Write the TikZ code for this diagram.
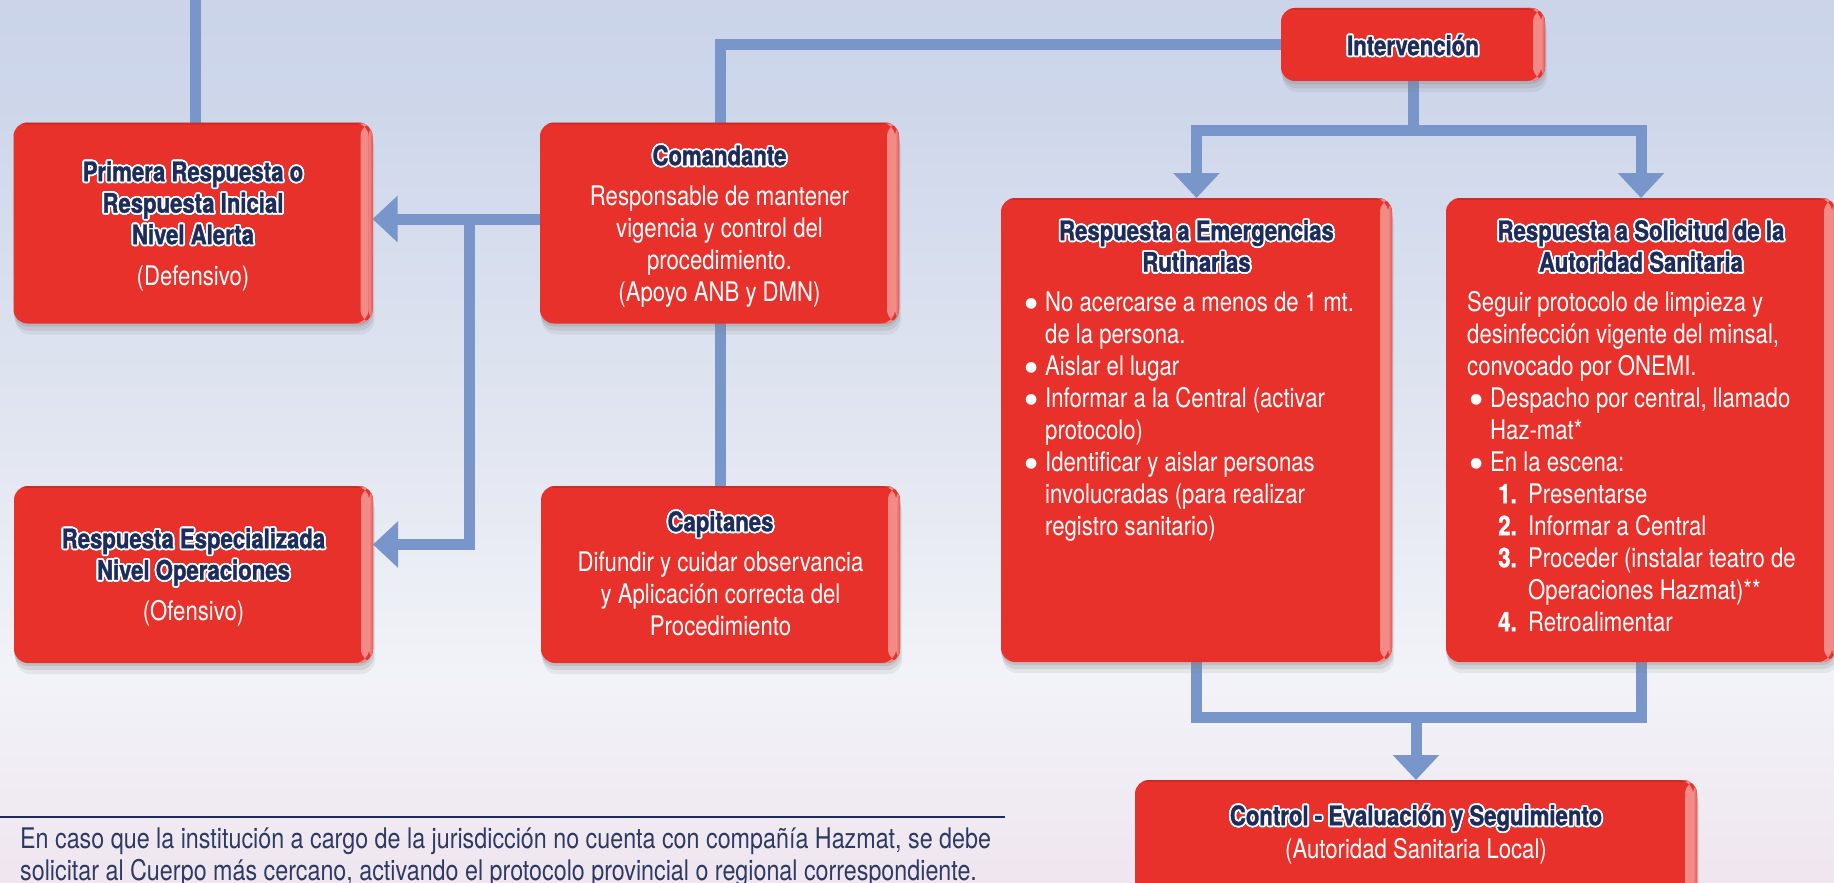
\documentclass[tikz,border=0pt]{standalone}
\usepackage{fontspec}
\setmainfont{TeX Gyre Heros}[FakeStretch=0.82, BoldFeatures={FakeBold=1.3}]
\newfontfamily\bulfont{DejaVu Sans}
\usepackage[copies]{contour}
\contourlength{1.8pt}
\usetikzlibrary{arrows.meta,shadows}
\definecolor{boxred}{RGB}{233,49,44}
\definecolor{hl}{RGB}{242,140,136}
\definecolor{hledge}{RGB}{230,88,84}
\definecolor{navy}{RGB}{30,44,92}
\definecolor{connc}{RGB}{121,150,203}
\definecolor{foot}{RGB}{45,58,100}
\definecolor{cA}{RGB}{190,203,228}
\definecolor{cB}{RGB}{205,214,234}
\definecolor{cC}{RGB}{226,230,241}
\definecolor{cD}{RGB}{242,243,248}
\definecolor{cE}{RGB}{238,224,236}
\definecolor{cF}{RGB}{224,214,232}
\pgfdeclareverticalshading{bgshade}{100bp}{color(0bp)=(cF); color(20bp)=(cE); color(37bp)=(cD); color(50bp)=(cC); color(70bp)=(cB); color(100bp)=(cA)}
\pgfdeclarelayer{bg}
\pgfdeclarelayer{lines}
\pgfsetlayers{bg,lines,main}
\newcommand{\ct}[1]{\contour{white}{#1}}
\newcommand{\bul}{\makebox[20pt][l]{\raisebox{4pt}{\bulfont\fontsize{14}{14}\selectfont ●}}}
\newcommand{\nitem}[1]{\makebox[30pt][l]{\bfseries #1}}
\newcommand{\fs}{\rule{0pt}{24pt}}
\begin{document}
\begin{tikzpicture}[x=1pt,y=-1pt,
  box/.style={rounded corners=14pt, fill=boxred, inner sep=0pt, outer sep=0pt,
    drop shadow={shadow xshift=0pt, shadow yshift=-3pt, opacity=0.22},
    drop shadow={shadow xshift=1pt, shadow yshift=-7pt, opacity=0.18},
    drop shadow={shadow xshift=2pt, shadow yshift=-11pt, opacity=0.12},
    path picture={
      \shade[left color=boxred, right color=hl] ([xshift=-12pt]path picture bounding box.south east) rectangle ([xshift=-4pt]path picture bounding box.north east);
      \shade[left color=hl, right color=hledge] ([xshift=-4pt]path picture bounding box.south east) rectangle (path picture bounding box.north east);
      \fill[boxred!75!black, opacity=0.45] (path picture bounding box.north west) rectangle ([yshift=-2pt]path picture bounding box.north east);
    }},
  link/.style={draw=connc, line width=11pt},
  arr/.style={link, -{Triangle[width=45pt,length=25pt]}},
  ttl/.style={font=\fontsize{27}{31.5}\selectfont\bfseries, text=navy, align=center, anchor=north, inner sep=0pt},
  bodyc/.style={font=\fontsize{27}{32}\selectfont, text=white, align=center, anchor=north, inner sep=0pt},
  bodyl/.style={font=\fontsize{27}{32}\selectfont, text=white, align=left, anchor=north west, inner sep=0pt},
  foottxt/.style={font=\fontsize{28.4}{32}\selectfont, text=foot, align=left, anchor=north west, inner sep=0pt}
]
\useasboundingbox (0,0) rectangle (1834,883);
\begin{pgfonlayer}{bg}
  \shade[shading=bgshade] (0,0) rectangle (1834,883);
\end{pgfonlayer}

% boxes
\node[box, minimum width=359pt, minimum height=201pt] (primera) at (193,223) {};
\node[box, minimum width=359pt, minimum height=201pt] (comand) at (719.5,223) {};
\node[box, minimum width=359pt, minimum height=177pt] (respesp) at (193.5,574.5) {};
\node[box, minimum width=359pt, minimum height=177pt] (capit) at (720.5,574.5) {};
\node[box, minimum width=264pt, minimum height=73pt] (interv) at (1413,44.5) {};
\node[box, minimum width=391pt, minimum height=464pt] (emerg) at (1196.5,430) {};
\node[box, minimum width=390pt, minimum height=464pt] (solic) at (1641,430) {};
\node[box, minimum width=562pt, minimum height=125pt] (control) at (1416,842.5) {};

% texts
\node[ttl] (primera-t) at (193,157) {\fs\ct{Primera Respuesta o}\\\ct{Respuesta Inicial}\\\ct{Nivel Alerta}};
\node[bodyc] (primera-b) at (193,261) {\fs(Defensivo)};
\node[ttl] (comand-t) at (719.5,141) {\fs\ct{Comandante}};
\node[bodyc] (comand-b) at (719.5,181) {\fs Responsable de mantener\\vigencia y control del\\procedimiento.\\(Apoyo ANB y DMN)};
\node[ttl] (respesp-t) at (193.5,524) {\fs\ct{Respuesta Especializada}\\\ct{Nivel Operaciones}};
\node[bodyc] (respesp-b) at (193.5,596) {\fs(Ofensivo)};
\node[ttl] (capit-t) at (720.5,507) {\fs\ct{Capitanes}};
\node[bodyc] (capit-b) at (720.5,547) {\fs Difundir y cuidar observancia\\y Aplicación correcta del\\Procedimiento};
\node[ttl] (interv-t) at (1413,31) {\fs\ct{Intervención}};
\node[ttl] (emerg-t) at (1196.5,216) {\fs\ct{Respuesta a Emergencias}\\\ct{Rutinarias}};
\node[bodyl] (emerg-b) at (1025,287) {\fs\bul No acercarse a menos de 1 mt.\\
\hspace*{20pt}de la persona.\\
\bul Aislar el lugar\\
\bul Informar a la Central (activar\\
\hspace*{20pt}protocolo)\\
\bul Identificar y aislar personas\\
\hspace*{20pt}involucradas (para realizar\\
\hspace*{20pt}registro sanitario)};
\node[ttl] (solic-t) at (1641,216) {\fs\ct{Respuesta a Solicitud de la}\\\ct{Autoridad Sanitaria}};
\node[bodyl] (solic-b) at (1467,287) {\fs Seguir protocolo de limpieza y\\
desinfección vigente del minsal,\\
convocado por ONEMI.\\
\hspace*{3pt}\bul Despacho por central, llamado\\
\hspace*{23pt}Haz-mat*\\
\hspace*{3pt}\bul En la escena:\\
\hspace*{31pt}\nitem{1.}Presentarse\\
\hspace*{31pt}\nitem{2.}Informar a Central\\
\hspace*{31pt}\nitem{3.}Proceder (instalar teatro de\\
\hspace*{61pt}Operaciones Hazmat)**\\
\hspace*{31pt}\nitem{4.}Retroalimentar};
\node[ttl] (control-t) at (1416,801) {\fs\ct{Control - Evaluación y Seguimiento}};
\node[bodyc] (control-b) at (1416,834) {\fs(Autoridad Sanitaria Local)};

% footnote
\coordinate (fnl) at (0,817);
\coordinate (fnr) at (1005,817);
\draw[navy, line width=1.6pt] (fnl) -- (fnr);
\node[foottxt] (foot) at (20,824) {\fs En caso que la institución a cargo de la jurisdicción no cuenta con compañía Hazmat, se debe\\solicitar al Cuerpo más cercano, activando el protocolo provincial o regional correspondiente.};

% connectors
\coordinate (tl) at (195,-10);
\coordinate (j) at (469,219.5);
\coordinate (m) at (1416,717);
\begin{pgfonlayer}{lines}
  \draw[link] (tl) -- (tl |- primera.north);
  \draw[arr] ([yshift=4pt]comand.west) -- ([yshift=4pt]primera.east);
  \draw[arr] (j) |- ([yshift=30pt]respesp.east);
  \draw[link] (interv.west) -| (capit.north);
  \draw[arr] (interv.south) -- ++(0,49) -| (emerg.north);
  \draw[arr] (interv.south) -- ++(0,49) -| (solic.north);
  \draw[link] (emerg.south) |- (m);
  \draw[link] (solic.south) |- (m);
  \draw[arr] (m) -- (control.north);
\end{pgfonlayer}
\end{tikzpicture}
\end{document}
